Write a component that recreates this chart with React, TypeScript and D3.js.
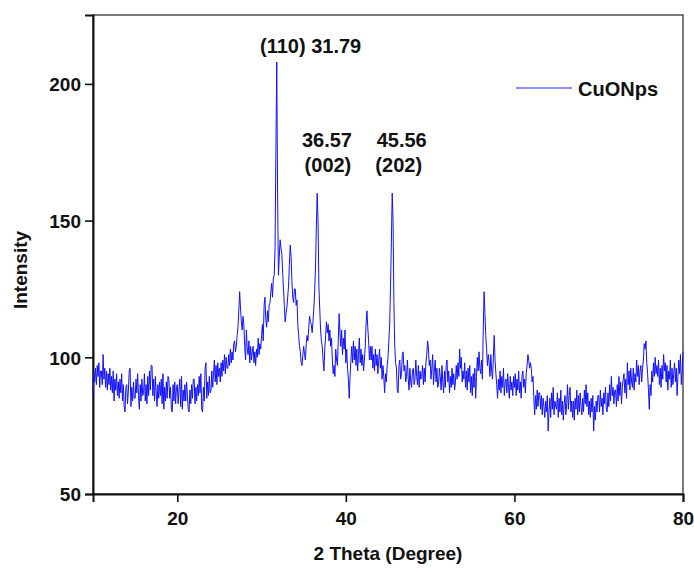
import { useEffect, useRef } from "react";
import * as d3 from "d3";

// XRD pattern of CuO nanoparticles, read every 0.1 degree from 10 to 80
const twoTheta = d3.range(701).map(i => +(10 + i * 0.1).toFixed(1));
const intensity = [
  86, 94, 91, 96, 90, 97, 93, 98, 89, 95, // 10
  95, 90, 101, 92, 96, 89, 95, 88, 94, 90,
  96, 88, 93, 87, 95, 84, 92, 88, 94, 86,
  91, 85, 92, 87, 94, 84, 90, 82, 80, 89,
  90, 83, 88, 95, 96, 82, 89, 84, 91, 85,
  85, 92, 87, 94, 86, 81, 90, 84, 92, 86, // 15
  87, 94, 84, 90, 83, 93, 86, 95, 88, 97,
  97, 86, 92, 84, 93, 87, 82, 90, 85, 91,
  86, 92, 83, 94, 81, 89, 84, 91, 85, 93,
  92, 85, 89, 81, 80, 90, 84, 91, 83, 89,
  90, 83, 88, 92, 82, 93, 81, 88, 84, 90, // 20
  84, 91, 86, 81, 80, 88, 83, 90, 85, 92,
  92, 83, 89, 84, 90, 86, 93, 87, 94, 81,
  80, 89, 84, 96, 98, 85, 91, 86, 93, 87,
  88, 95, 89, 94, 99, 91, 97, 90, 98, 93,
  96, 91, 98, 93, 99, 95, 101, 94, 100, 96, // 25
  96, 101, 97, 103, 98, 102, 99, 105, 106, 102,
  104, 108, 111, 117, 124, 118, 113, 110, 115, 112,
  104, 99, 110, 103, 101, 106, 98, 104, 99, 102,
  104, 98, 102, 97, 103, 100, 107, 101, 105, 103,
  108, 112, 106, 119, 122, 114, 111, 117, 113, 119, // 30
  120, 124, 127, 122, 129, 130, 140, 175, 208, 160,
  130, 137, 143, 140, 138, 131, 125, 119, 113, 116,
  118, 122, 126, 134, 141, 137, 128, 122, 120, 125,
  125, 119, 121, 112, 108, 104, 102, 98, 97, 101,
  104, 101, 99, 105, 108, 106, 111, 115, 113, 112, // 35
  109, 113, 118, 124, 133, 148, 160, 150, 126, 118,
  110, 106, 104, 99, 95, 103, 108, 113, 109, 112,
  106, 110, 104, 107, 99, 94, 97, 93, 103, 99,
  97, 106, 116, 109, 104, 110, 101, 107, 103, 110,
  98, 103, 96, 92, 85, 93, 99, 104, 98, 106, // 40
  99, 104, 97, 103, 95, 101, 107, 98, 103, 97,
  101, 95, 99, 104, 112, 117, 111, 106, 99, 104,
  99, 104, 96, 101, 95, 103, 97, 101, 94, 99,
  103, 96, 100, 92, 97, 93, 87, 94, 91, 97,
  100, 106, 112, 126, 142, 160, 150, 120, 104, 98, // 45
  96, 88, 87, 97, 99, 92, 94, 101, 102, 95,
  97, 91, 93, 99, 92, 88, 96, 91, 89, 95,
  96, 90, 92, 99, 93, 90, 97, 89, 95, 92,
  93, 97, 90, 96, 91, 98, 101, 106, 103, 97,
  99, 92, 96, 101, 90, 95, 99, 91, 96, 89, // 50
  90, 96, 93, 88, 97, 91, 87, 95, 89, 97,
  99, 91, 95, 87, 93, 89, 96, 90, 94, 88,
  91, 97, 92, 98, 93, 103, 96, 100, 91, 95,
  92, 98, 89, 95, 88, 96, 91, 97, 87, 93,
  86, 94, 89, 96, 85, 93, 100, 95, 102, 96, // 55
  94, 99, 92, 110, 124, 116, 108, 103, 97, 101,
  98, 93, 101, 95, 92, 100, 108, 99, 94, 90,
  85, 92, 88, 95, 87, 93, 89, 96, 86, 91,
  92, 87, 94, 89, 85, 93, 88, 91, 86, 93,
  89, 94, 86, 92, 88, 95, 87, 91, 85, 93, // 60
  95, 89, 92, 87, 94, 97, 101, 99, 96, 98,
  96, 91, 93, 85, 79, 86, 81, 88, 82, 87,
  87, 81, 86, 79, 85, 82, 78, 84, 80, 86,
  73, 80, 85, 78, 87, 81, 89, 79, 84, 82,
  81, 87, 78, 85, 80, 88, 79, 84, 77, 83, // 65
  86, 79, 83, 90, 81, 86, 89, 80, 84, 78,
  84, 77, 85, 81, 88, 79, 86, 80, 87, 82,
  79, 85, 80, 88, 83, 90, 82, 87, 79, 84,
  78, 85, 80, 86, 73, 82, 77, 84, 80, 86,
  86, 80, 88, 82, 85, 79, 87, 83, 89, 81, // 70
  80, 87, 82, 90, 84, 93, 86, 89, 83, 88,
  88, 82, 90, 84, 93, 86, 91, 83, 89, 92,
  94, 87, 92, 85, 98, 90, 95, 88, 96, 91,
  89, 96, 88, 94, 91, 99, 93, 97, 90, 95,
  97, 91, 96, 99, 105, 103, 106, 98, 94, 88, // 75
  81, 90, 86, 95, 91, 98, 93, 100, 94, 97,
  93, 99, 90, 96, 89, 97, 92, 101, 95, 98,
  91, 97, 88, 95, 92, 99, 89, 96, 90, 94,
  98, 91, 96, 86, 93, 99, 94, 101, 90, 95,
  102, // 80
];
const xTicks = [20, 40, 60, 80];
const yTicks = [50, 100, 150, 200];
const seriesName = "CuONps";
const peakPositions = [31.79, 36.57, 45.56];
const peakPlanes = ["(110)", "(002)", "(202)"];

const W = 694;
const H = 570;
const margin = { top: 15, right: 11, bottom: 76, left: 93 };
const font = "'Liberation Sans', Arial, sans-serif";

export default function App() {
  const ref = useRef<SVGSVGElement>(null);

  useEffect(() => {
    const svg = d3.select(ref.current);
    svg.selectAll("*").remove();

    const x = d3.scaleLinear().domain([10, 80]).range([margin.left, W - margin.right]);
    const y = d3.scaleLinear().domain([50, 225.2]).range([H - margin.bottom, margin.top]);

    // frame
    svg.append("rect")
      .attr("x", x(10)).attr("y", y(225.2))
      .attr("width", x(80) - x(10)).attr("height", y(50) - y(225.2))
      .attr("fill", "none").attr("stroke", "#222").attr("stroke-width", 1.2);

    const xAxis = svg.append("g")
      .attr("transform", `translate(0, ${y(50)})`)
      .call(d3.axisBottom(x).tickValues(xTicks).tickSize(8).tickPadding(6).tickFormat(d3.format("d")));
    const yAxis = svg.append("g")
      .attr("transform", `translate(${x(10)}, 0)`)
      .call(d3.axisLeft(y).tickValues(yTicks).tickSize(8).tickPadding(4).tickFormat(d3.format("d")));

    [xAxis, yAxis].forEach(g => {
      g.select(".domain").attr("stroke", "#111").attr("stroke-width", 2);
      g.selectAll(".tick line").attr("stroke", "#111").attr("stroke-width", 1.6);
      g.selectAll(".tick text")
        .attr("fill", "#111")
        .style("font-family", font)
        .style("font-weight", "bold")
        .style("font-size", "19px");
    });
    xAxis.selectAll(".tick text").attr("dy", "0.9em");
    yAxis.selectAll(".tick text").attr("dy", "0.36em");

    // axis titles
    svg.append("text")
      .attr("x", x(45)).attr("y", 560)
      .attr("text-anchor", "middle")
      .style("font-family", font).style("font-weight", "bold").style("font-size", "19px")
      .attr("fill", "#111")
      .text("2 Theta (Degree)");
    svg.append("text")
      .attr("transform", "translate(27, 270) rotate(-90)")
      .attr("text-anchor", "middle")
      .style("font-family", font).style("font-weight", "bold").style("font-size", "19px")
      .attr("fill", "#111")
      .text("Intensity");

    // pattern
    const pts: [number, number][] = twoTheta.map((t, i) => [t, intensity[i]]);
    const line = d3.line<[number, number]>().x(d => x(d[0])).y(d => y(d[1]));
    svg.append("path")
      .attr("d", line(pts))
      .attr("fill", "none")
      .attr("stroke", "#1010ff")
      .attr("stroke-width", 1)
      .attr("stroke-linejoin", "round");

    // peak annotations
    const labels = [
      { text: `${peakPlanes[0]} ${peakPositions[0]}`, px: x(peakPositions[0]) + 34, py: 53 },
      { text: `${peakPositions[1]}`, px: x(peakPositions[1]) + 10, py: 147 },
      { text: peakPlanes[1], px: x(peakPositions[1]) + 11, py: 172 },
      { text: `${peakPositions[2]}`, px: x(peakPositions[2]) + 9, py: 147 },
      { text: peakPlanes[2], px: x(peakPositions[2]) + 6, py: 172 },
    ];
    svg.selectAll(".peak")
      .data(labels)
      .join("text")
      .attr("class", "peak")
      .attr("x", d => d.px).attr("y", d => d.py)
      .attr("text-anchor", "middle")
      .style("font-family", font).style("font-weight", "bold").style("font-size", "20px")
      .attr("fill", "#111")
      .text(d => d.text);

    // legend
    svg.append("line")
      .attr("x1", 516).attr("x2", 572).attr("y1", 88).attr("y2", 88)
      .attr("stroke", "#6f6fff").attr("stroke-width", 1.3);
    svg.append("text")
      .attr("x", 578).attr("y", 96)
      .style("font-family", font).style("font-weight", "bold").style("font-size", "20px")
      .attr("fill", "#111")
      .text(seriesName);
  }, []);

  return (
    <svg ref={ref} width={W} height={H}
      style={{ position: "absolute", left: 0, top: 0, background: "#fff" }} />
  );
}
